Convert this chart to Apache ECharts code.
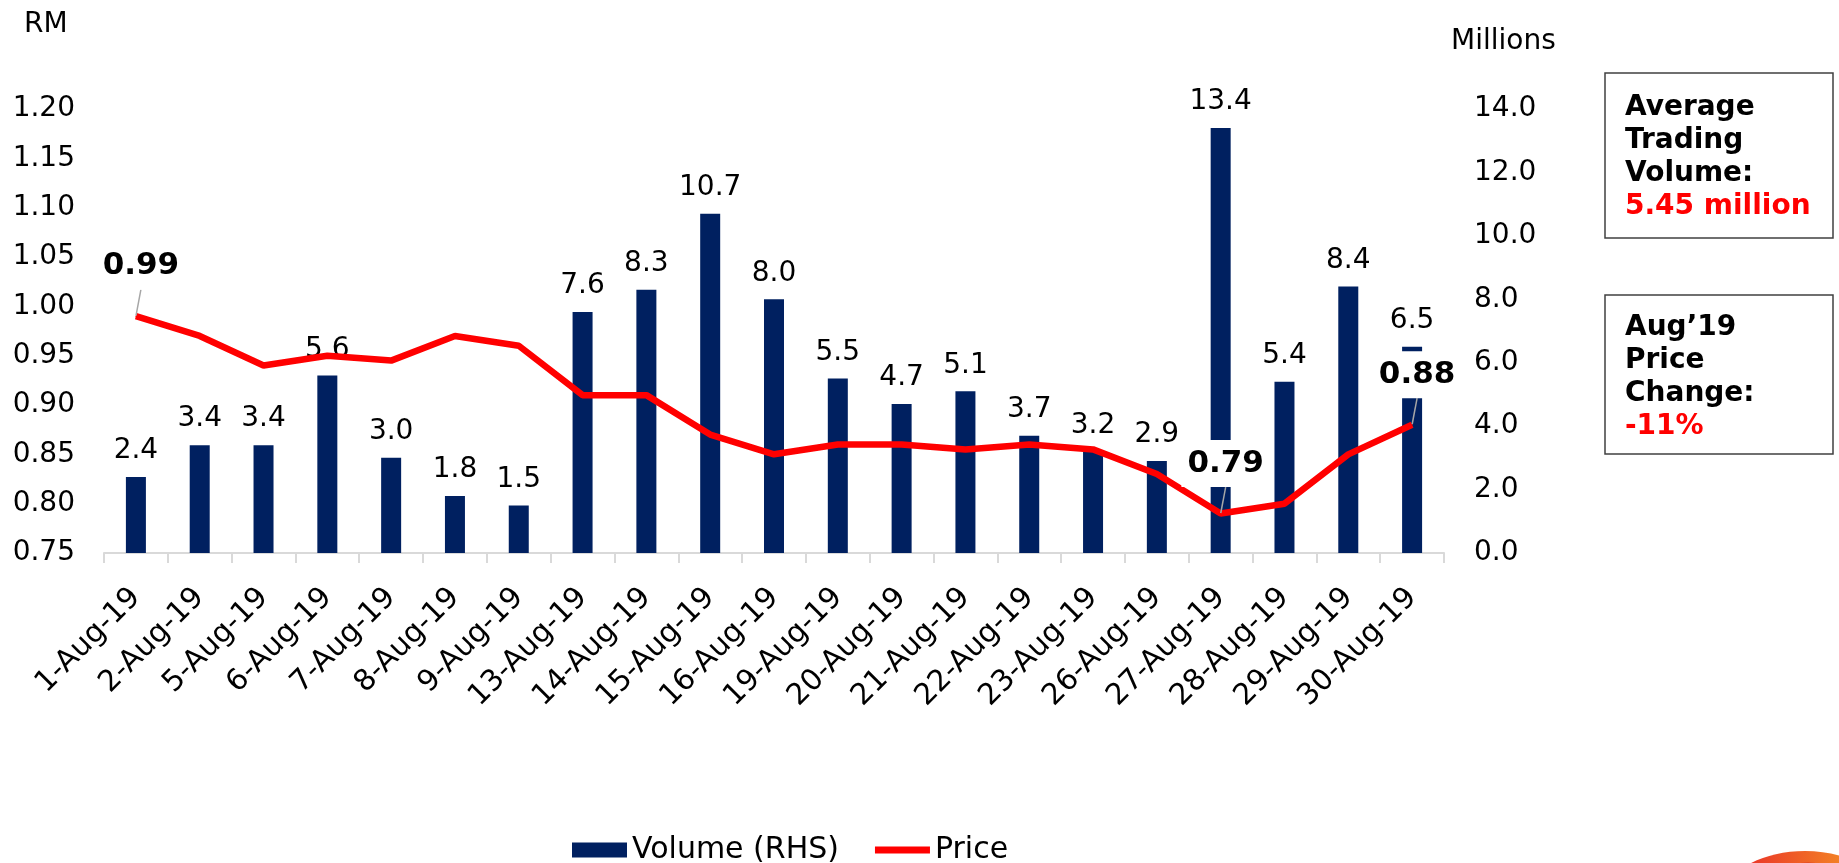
<!DOCTYPE html>
<html>
<head>
<meta charset="utf-8">
<title>Volume and Price, Aug 2019</title>
<script src="https://cdn.jsdelivr.net/npm/echarts@6/dist/echarts.min.js"></script>
<style>
  html, body { margin: 0; padding: 0; background: #fff; }
  #main { width: 1839px; height: 863px; }
</style>
</head>
<body>
<div id="main"></div>
<script>
// data
const days = ["1-Aug-19", "2-Aug-19", "5-Aug-19", "6-Aug-19", "7-Aug-19", "8-Aug-19", "9-Aug-19",
  "13-Aug-19", "14-Aug-19", "15-Aug-19", "16-Aug-19", "19-Aug-19", "20-Aug-19", "21-Aug-19",
  "22-Aug-19", "23-Aug-19", "26-Aug-19", "27-Aug-19", "28-Aug-19", "29-Aug-19", "30-Aug-19"];
const volume = [2.4, 3.4, 3.4, 5.6, 3.0, 1.8, 1.5, 7.6, 8.3, 10.7, 8.0, 5.5, 4.7, 5.1, 3.7, 3.2, 2.9, 13.4, 5.4, 8.4, 6.5];
const price = [0.99, 0.97, 0.94, 0.95, 0.945, 0.97, 0.96, 0.91, 0.91, 0.87, 0.85, 0.86, 0.86, 0.855, 0.86, 0.855, 0.83, 0.79, 0.80, 0.85, 0.88];
const priceLabelIdx = [0, 17, 20]; // start, low, end
const avgVolume = "5.45 million";
const priceChange = "-11%";

const FONT = "DejaVu Sans";

const chart = echarts.init(document.getElementById("main"));

const priceData = price.map((v, i) => {
  if (priceLabelIdx.indexOf(i) === -1) return v;
  return { value: v, label: { show: true }, labelLine: { show: true } };
});

chart.setOption({
  animation: false,
  textStyle: { fontFamily: FONT },
  grid: { left: 104, right: 395, top: 109, bottom: 310 },
  legend: {
    left: 572,
    top: 835,
    padding: 0,
    itemWidth: 55,
    itemHeight: 15,
    itemGap: 36,
    textStyle: { fontSize: 30, color: "#000", fontFamily: FONT },
    data: [
      { name: "Volume (RHS)", icon: "rect" },
      { name: "Price", icon: "path://M0,0H57V7H0Z", itemStyle: { color: "#ff0000" } },
    ],
  },
  xAxis: {
    type: "category",
    data: days,
    axisLine: { lineStyle: { color: "#d9d9d9", width: 2 } },
    axisTick: { show: true, length: 10, lineStyle: { color: "#d9d9d9", width: 2 } },
    axisLabel: { rotate: 45, margin: 40, fontSize: 29.5, color: "#000", interval: 0 },
  },
  yAxis: [
    {
      type: "value",
      min: 0.75,
      max: 1.2,
      interval: 0.05,
      axisLine: { show: false },
      axisTick: { show: false },
      splitLine: { show: false },
      axisLabel: { fontSize: 28, color: "#000", margin: 29, formatter: (v) => v.toFixed(2) },
    },
    {
      type: "value",
      min: 0,
      max: 14,
      interval: 2,
      position: "right",
      axisLine: { show: false },
      axisTick: { show: false },
      splitLine: { show: false },
      axisLabel: { fontSize: 28, color: "#000", margin: 30, formatter: (v) => v.toFixed(1) },
    },
  ],
  series: [
    {
      name: "Volume (RHS)",
      type: "bar",
      yAxisIndex: 1,
      barWidth: 20,
      data: volume,
      itemStyle: { color: "#002060" },
      label: {
        show: true,
        position: "top",
        distance: 12,
        fontSize: 28,
        color: "#000",
        formatter: (p) => p.value.toFixed(1),
      },
    },
    {
      name: "Price",
      type: "line",
      yAxisIndex: 0,
      data: priceData,
      symbol: "circle",
      symbolSize: 1,
      lineStyle: { color: "#ff0000", width: 6.5 },
      itemStyle: { color: "#ff0000" },
      label: {
        show: false,
        position: "top",
        distance: 26,
        offset: [5, 0],
        fontSize: 31,
        fontWeight: "bold",
        color: "#000",
        backgroundColor: "#fff",
        padding: [8, 6],
        formatter: (p) => p.value.toFixed(2),
      },
      labelLine: { show: false, lineStyle: { color: "#a6a6a6", width: 1.5 } },
      // keep the label where it is, but go through layout so the leader line is drawn
      labelLayout: (params) => {
        const r = params.labelRect;
        return { x: r.x + r.width / 2, y: r.y + r.height / 2, align: "center", verticalAlign: "middle" };
      },
    },
  ],
  graphic: [
    { type: "text", left: 24, top: 11, style: { text: "RM", fontSize: 28, fill: "#000", fontFamily: FONT } },
    { type: "text", left: 1451, top: 28, style: { text: "Millions", fontSize: 28, fill: "#000", fontFamily: FONT } },
    // info boxes
    {
      type: "rect",
      shape: { x: 1605, y: 73, width: 228, height: 165 },
      style: { fill: "#fff", stroke: "#404040", lineWidth: 1.5 },
    },
    {
      type: "text",
      x: 1625,
      y: 91,
      style: {
        text: "{b|Average}\n{b|Trading}\n{b|Volume:}\n{r|" + avgVolume + "}",
        verticalAlign: "top",
        fontFamily: FONT,
        rich: {
          b: { fontSize: 28, fontWeight: "bold", fill: "#000", lineHeight: 33, fontFamily: FONT },
          r: { fontSize: 28, fontWeight: "bold", fill: "#ff0000", lineHeight: 33, fontFamily: FONT },
        },
      },
    },
    {
      type: "rect",
      shape: { x: 1605, y: 295, width: 228, height: 159 },
      style: { fill: "#fff", stroke: "#404040", lineWidth: 1.5 },
    },
    {
      type: "text",
      x: 1625,
      y: 311,
      style: {
        text: "{b|Aug\u201919}\n{b|Price}\n{b|Change:}\n{r|" + priceChange + "}",
        verticalAlign: "top",
        fontFamily: FONT,
        rich: {
          b: { fontSize: 28, fontWeight: "bold", fill: "#000", lineHeight: 33, fontFamily: FONT },
          r: { fontSize: 28, fontWeight: "bold", fill: "#ff0000", lineHeight: 33, fontFamily: FONT },
        },
      },
    },
    // corner logo, mostly cut off
    {
      type: "ellipse",
      shape: { cx: 1805, cy: 904, rx: 85, ry: 53 },
      style: {
        fill: new echarts.graphic.LinearGradient(0, 0, 1, 0, [
          { offset: 0, color: "#e8202a" },
          { offset: 1, color: "#f7a823" },
        ]),
      },
    },
    {
      type: "ellipse",
      shape: { cx: 1808, cy: 912, rx: 76, ry: 48 },
      style: { fill: "none", stroke: "#c8141c", lineWidth: 2.5 },
    },
  ],
});
</script>
</body>
</html>
